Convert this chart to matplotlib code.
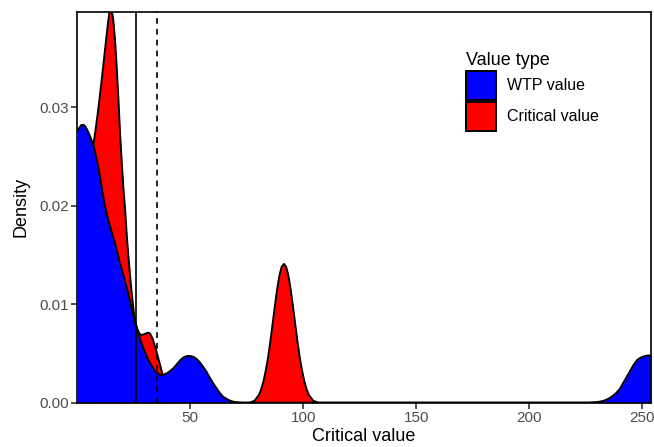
''' Density of WTP values vs critical values '''
import matplotlib
matplotlib.use('Agg')
import matplotlib.pyplot as plt
from matplotlib.patches import Patch

# density curves (x, density)
wtp_x = [0, 0.8, 1.7, 2.6, 3.5, 4.4, 5.6, 6.4, 7.1, 8, 9, 10, 11, 12, 13,
         14, 15, 16.7, 18.5, 20, 21.1, 22.5, 24, 25.5, 26.8, 28, 29.3, 30.7,
         32, 33.3, 34.5, 35.6, 36.6, 37.6, 38.6, 39.7, 41, 42.5, 44, 45.5,
         47, 48.2, 49.3, 50.5, 51.8, 53, 54.2, 55.5, 57, 58.5, 60, 61.5, 63,
         64.5, 66, 67.5, 69, 71, 73, 226, 229, 231, 233, 235, 237, 238.5,
         240, 241.5, 243, 244.5, 246, 247.5, 249, 250.5, 252, 253.8]
wtp_y = [0.0276, 0.0279, 0.0282, 0.02824, 0.0281, 0.0277, 0.0271, 0.0266,
         0.0262, 0.0253, 0.0243, 0.0230, 0.0216, 0.0203, 0.0192, 0.0183,
         0.0175, 0.0162, 0.0145, 0.0133, 0.0124, 0.0111, 0.0096, 0.0082,
         0.0072, 0.0063, 0.0055, 0.0047, 0.0041, 0.0036, 0.0032, 0.0030,
         0.0028, 0.0028, 0.0029, 0.0030, 0.0032, 0.0035, 0.0039, 0.0043,
         0.0046, 0.00472, 0.00475, 0.00472, 0.0046, 0.0044, 0.0041, 0.0037,
         0.0032, 0.0026, 0.0020, 0.0015, 0.0010, 0.0006, 0.0004, 0.0002,
         0.0001, 0.00003, 0.0, 0.0, 0.00005, 0.0001, 0.0002, 0.0004, 0.0007,
         0.0010, 0.0014, 0.0020, 0.0026, 0.0032, 0.0038, 0.0043, 0.00455,
         0.0047, 0.00478, 0.0048]

crit_x = [2, 3, 5, 6.4, 7.1, 8, 9, 10, 11, 12, 13, 13.7, 14.3, 14.8, 15.3,
          15.9, 16.7, 17.4, 18.2, 18.9, 19.7, 20.4, 21.1, 22, 23, 23.7, 24.4,
          25, 25.5, 26.5, 27.3, 28, 29, 30, 31, 31.8, 32.5, 33.3, 34, 34.8,
          35.5, 36.2, 36.9, 37.6, 38.5, 39.5, 40.5, 42, 44, 76.4, 78.4, 79.4,
          80.4, 81.4, 82.4, 83.4, 84.4, 85.4, 86.4, 87.4, 88.4, 89.4, 90.4,
          91.4, 92.4, 93.4, 94.4, 95.4, 96.4, 97.4, 98.4, 99.4, 100.4, 101.4,
          102.4, 103.4, 104.4, 106.4, 253.8]
crit_y = [0.0150, 0.0180, 0.0225, 0.0248, 0.0262, 0.0276, 0.0293, 0.0312,
          0.0332, 0.0353, 0.0374, 0.0388, 0.0398, 0.0402, 0.0398, 0.0389,
          0.0368, 0.0342, 0.0308, 0.0274, 0.0243, 0.0218, 0.0198, 0.0166,
          0.0138, 0.0120, 0.0104, 0.0092, 0.0084, 0.0075, 0.0071, 0.0069,
          0.0069, 0.0070, 0.0071, 0.0071, 0.0069, 0.0065, 0.0060, 0.0054,
          0.0048, 0.0042, 0.0036, 0.0029, 0.0020, 0.0012, 0.0007, 0.0002,
          0.0, 0.0, 0.0002, 0.0005, 0.0008, 0.0014, 0.0022, 0.0033, 0.0046,
          0.0062, 0.0080, 0.0098, 0.0115, 0.0129, 0.0138, 0.0141, 0.0138,
          0.0129, 0.0115, 0.0098, 0.0080, 0.0062, 0.0046, 0.0033, 0.0022,
          0.0014, 0.0008, 0.0005, 0.0002, 0.0, 0.0]

solid_line = 26.1
dashed_line = 35.3

x_ticks = [50, 100, 150, 200, 250]
y_ticks = [0.00, 0.01, 0.02, 0.03]

plt.rcParams['font.family'] = ['Liberation Sans', 'DejaVu Sans']

fig = plt.figure(figsize=(6.54, 4.47), dpi=100)
ax = fig.add_axes([0.1182, 0.0991, 0.8772, 0.8741])

# red first, blue on top (as in the reference)
ax.fill_between(crit_x, crit_y, color='#FF0000', lw=0, zorder=1)
ax.plot(crit_x, crit_y, color='black', lw=1.4, zorder=1.1,
        solid_joinstyle='round')
ax.fill_between(wtp_x, wtp_y, color='#0000FF', lw=0, zorder=1.2)
ax.plot(wtp_x, wtp_y, color='black', lw=1.4, zorder=1.3,
        solid_joinstyle='round')

ax.axvline(solid_line, color='black', lw=1.2, zorder=2)
ax.axvline(dashed_line, color='black', lw=1.2, ls=(0, (3.5, 3)), zorder=2)

ax.set_xlim(0, 253.8)
ax.set_ylim(0, 0.0397)
ax.set_xticks(x_ticks)
ax.set_yticks(y_ticks)
ax.set_yticklabels([f'{v:.2f}' for v in y_ticks])
ax.tick_params(direction='out', length=4, width=1.2, color='#333333',
               labelsize=11, labelcolor='#4D4D4D', pad=2)
for spine in ax.spines.values():
    spine.set_linewidth(1.2)
    spine.set_zorder(3)
ax.set_xlabel('Critical value', fontsize=13, labelpad=2)
ax.set_ylabel('Density', fontsize=13, labelpad=7)

handles = [Patch(facecolor='#0000FF', edgecolor='black', lw=1.4),
           Patch(facecolor='#FF0000', edgecolor='black', lw=1.4)]
leg = ax.legend(handles, ['WTP value', 'Critical value'], title='Value type',
                loc='upper left', bbox_to_anchor=(466 / 654, 1 - 52 / 447),
                bbox_transform=fig.transFigure, frameon=False, fontsize=11.5,
                title_fontsize=13, handlelength=1.85, handleheight=2.45,
                labelspacing=0.1, handletextpad=0.7, borderpad=0,
                borderaxespad=0)
leg._legend_box.align = 'left'

fig.savefig('out.png', dpi=100)
